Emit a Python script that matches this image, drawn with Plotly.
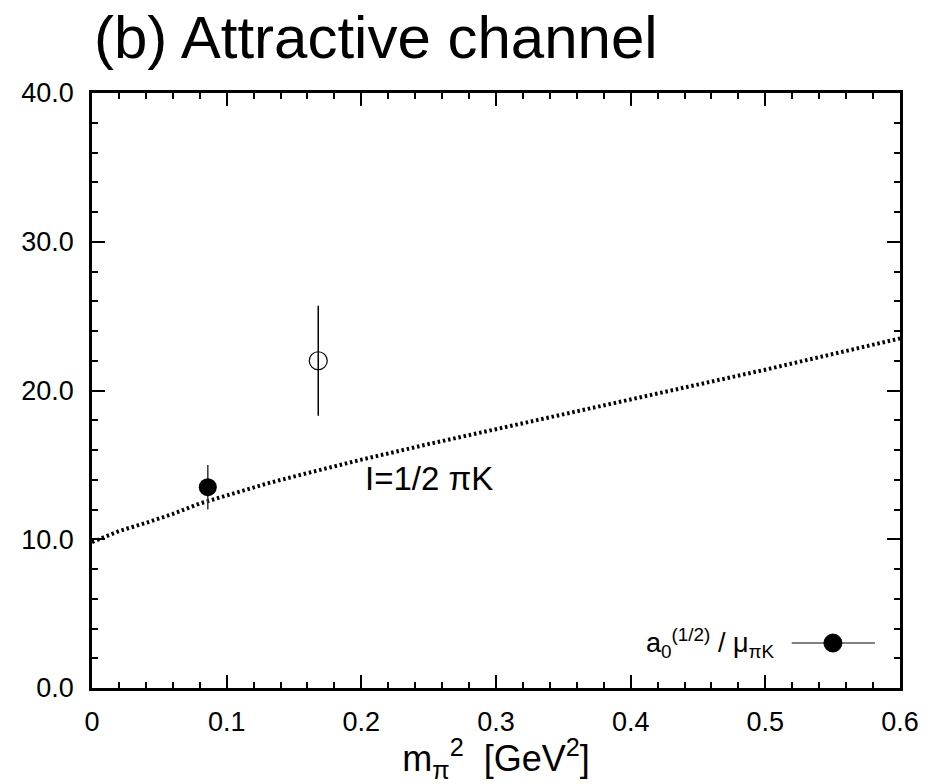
import plotly.graph_objects as go

# Lattice points: a0^(1/2)/mu_piK vs m_pi^2
filled_x = [0.086]
filled_y = [13.5]
filled_err = [1.5]

open_x = [0.168]
open_y = [22.0]
open_err = [3.7]

# I=1/2 pi-K chiral curve
curve_x = [0.0, 0.01, 0.02, 0.04, 0.06, 0.08, 0.10, 0.13, 0.16, 0.20,
           0.25, 0.30, 0.35, 0.40, 0.45, 0.50, 0.55, 0.60]
curve_y = [9.8, 10.2, 10.55, 11.1, 11.7, 12.4, 12.95, 13.75, 14.45, 15.35,
           16.4, 17.4, 18.4, 19.35, 20.35, 21.4, 22.45, 23.5]

x_ticks = [0, 0.1, 0.2, 0.3, 0.4, 0.5, 0.6]
y_ticks = [0, 10, 20, 30, 40]

FONT = "Liberation Sans, Arial, sans-serif"

fig = go.Figure()

fig.add_trace(go.Scatter(
    x=curve_x, y=curve_y, mode="lines",
    line=dict(color="black", width=4, dash="2.5px,2.8px"),
    hoverinfo="skip"))

fig.add_trace(go.Scatter(
    x=filled_x, y=filled_y, mode="markers",
    marker=dict(symbol="circle", size=18, color="black"),
    error_y=dict(type="data", array=filled_err, color="#333333",
                 thickness=1.5, width=0)))

fig.add_trace(go.Scatter(
    x=open_x, y=open_y, mode="markers",
    marker=dict(symbol="circle-open", size=18, color="black",
                line=dict(width=1.2)),
    error_y=dict(type="data", array=open_err, color="black",
                 thickness=1.5, width=0)))

axis_common = dict(
    showline=True, linecolor="black", linewidth=2.5, mirror="ticks",
    ticks="inside", ticklen=13, tickwidth=2, tickcolor="black",
    showgrid=False, zeroline=False,
    tickfont=dict(family=FONT, size=27, color="black"),
)

fig.update_xaxes(
    range=[0, 0.6], tickvals=x_ticks,
    ticktext=[("0" if v == 0 else f"{v:.1f}") for v in x_ticks],
    ticklabelstandoff=8,
    minor=dict(ticks="inside", ticklen=6, tickwidth=2, tickcolor="black",
               dtick=0.02, tick0=0, showgrid=False),
    title=dict(text="m<sub>π</sub><sup>2</sup>  [GeV<sup>2</sup>]",
               font=dict(family=FONT, size=36, color="black"), standoff=6),
    **axis_common)

fig.update_yaxes(
    range=[0, 40], tickvals=y_ticks,
    ticktext=[f"{v:.1f}" for v in y_ticks],
    ticklabelstandoff=10,
    minor=dict(ticks="inside", ticklen=6, tickwidth=2, tickcolor="black",
               dtick=2, tick0=0, showgrid=False),
    **axis_common)

# Legend entry drawn by hand: text on the left, symbol on the right
fig.add_annotation(
    x=0.847, y=0.0756, xref="paper", yref="paper",
    xanchor="right", yanchor="middle", showarrow=False,
    text="a<sub>0</sub><sup>(1/2)</sup> / μ<sub>πK</sub>",
    font=dict(family=FONT, size=27, color="black"))
fig.add_shape(type="line", xref="paper", yref="paper",
              x0=0.866, x1=0.969, y0=0.0756, y1=0.0756,
              line=dict(color="#808080", width=2))
fig.add_shape(type="circle", xref="paper", yref="paper",
              xsizemode="pixel", ysizemode="pixel",
              xanchor=0.917, yanchor=0.0756,
              x0=-9, x1=9, y0=-9, y1=9,
              fillcolor="black", line=dict(color="black", width=1))

# Curve label
fig.add_annotation(
    x=0.201, y=14.1, xref="x", yref="y",
    xanchor="left", yanchor="middle", showarrow=False,
    text="I=1/2 πK", font=dict(family=FONT, size=33, color="black"))

# Panel title
fig.add_annotation(
    x=0.0, y=1.094, xref="paper", yref="paper",
    xanchor="left", yanchor="middle", showarrow=False,
    text="(b) Attractive channel",
    font=dict(family=FONT, size=60, color="black"))

fig.update_layout(
    width=940, height=784,
    margin=dict(l=92, r=40, t=93, b=96),
    paper_bgcolor="white", plot_bgcolor="white",
    showlegend=False,
    font=dict(family=FONT, color="black"),
)

fig.write_html("out.html")
